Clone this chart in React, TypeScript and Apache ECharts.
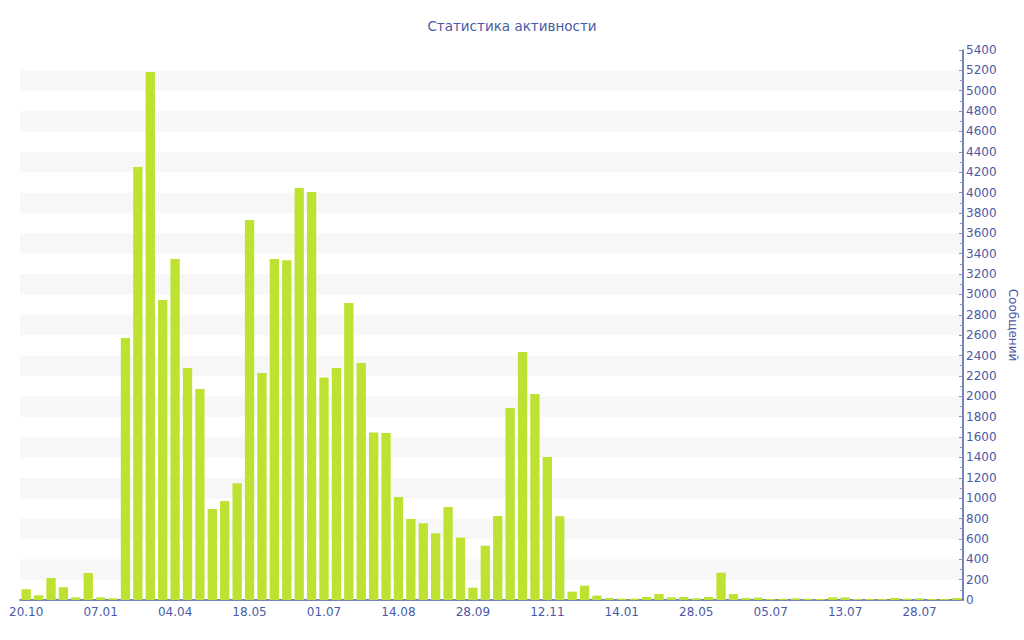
import React, { useEffect, useRef } from "react";
import * as echarts from "echarts";

const categories: string[] = [
  "20.10", "03.11", "17.11", "01.12", "15.12", "24.12",
  "07.01", "21.01", "04.02", "18.02", "04.03", "18.03",
  "04.04", "11.04", "18.04", "25.04", "02.05", "09.05",
  "18.05", "25.05", "01.06", "08.06", "15.06", "22.06",
  "01.07", "08.07", "15.07", "22.07", "29.07", "05.08",
  "14.08", "21.08", "28.08", "04.09", "11.09", "18.09",
  "28.09", "05.10", "12.10", "19.10", "26.10", "02.11",
  "12.11", "19.11", "26.11", "03.12", "17.12", "31.12",
  "14.01", "11.02", "11.03", "08.04", "22.04", "13.05",
  "28.05", "04.06", "11.06", "18.06", "25.06", "02.07",
  "05.07", "06.07", "07.07", "08.07", "10.07", "11.07",
  "13.07", "15.07", "17.07", "20.07", "22.07", "25.07",
  "28.07", "30.07", "01.08", "03.08",
];

const messages: number[] = [
  105, 46, 216, 125, 26, 265,
  26, 17, 2573, 4252, 5185, 2946,
  3349, 2278, 2072, 893, 972, 1146,
  3732, 2229, 3349, 3335, 4046, 4007,
  2185, 2278, 2917, 2327, 1645, 1640,
  1011, 795, 753, 655, 913, 612,
  121, 533, 825, 1885, 2435, 2023,
  1404, 822, 82, 141, 43, 20,
  13, 13, 29, 59, 26, 29,
  16, 29, 268, 59, 20, 23,
  10, 13, 16, 13, 10, 26,
  26, 10, 10, 10, 20, 13,
  16, 10, 10, 20,
];

const titleText = "Статистика активности";
const yName = "Сообщений";

const AXIS = "#4a5aa6";
const FONT = "DejaVu Sans";

export default function App() {
  const ref = useRef<HTMLDivElement>(null);
  useEffect(() => {
    if (!ref.current) return;
    const chart = echarts.init(ref.current, null, { renderer: "svg" });
    chart.setOption({
      animation: false,
      backgroundColor: "#ffffff",
      title: {
        text: titleText,
        left: "center",
        top: 14,
        textStyle: { color: AXIS, fontFamily: FONT, fontSize: 13.5, fontWeight: "normal" },
      },
      grid: { left: 20, right: 61, top: 50, bottom: 40, containLabel: false, outerBoundsMode: "none" },
      xAxis: {
        type: "category",
        data: categories,
        boundaryGap: true,
        axisLine: { lineStyle: { color: AXIS, width: 1.5 } },
        axisTick: { alignWithLabel: true, interval: 5, length: 4, lineStyle: { color: "#a0a6c4" } },
        axisLabel: { interval: 5, color: AXIS, fontFamily: FONT, fontSize: 12, margin: 6 },
        splitLine: { show: false },
      },
      yAxis: {
        type: "value",
        position: "right",
        min: 0,
        max: 5400,
        interval: 200,
        name: yName,
        nameLocation: "middle",
        nameRotate: -90,
        nameGap: 42,
        nameTextStyle: { color: AXIS, fontFamily: FONT, fontSize: 12 },
        axisLine: { show: true, lineStyle: { color: AXIS, width: 1.5 } },
        axisTick: { show: true, inside: true, length: 4, lineStyle: { color: "#8a92bb" } },
        minorTick: { show: true, splitNumber: 2, length: 3, lineStyle: { color: "#8a92bb" } },
        axisLabel: {
          color: AXIS,
          fontFamily: FONT,
          fontSize: 12,
          margin: 3,
          formatter: (v: number) => String(v),
        },
        splitLine: { show: false },
        splitArea: { show: true, areaStyle: { color: ["#ffffff", "#f7f7f7"] } },
      },
      series: [
        {
          type: "bar",
          data: messages,
          barCategoryGap: "25%",
          itemStyle: { color: "#bde232" },
        },
      ],
    });
    return () => chart.dispose();
  }, []);
  return <div ref={ref} style={{ width: 1024, height: 640, position: "absolute", left: 0, top: 0 }} />;
}
